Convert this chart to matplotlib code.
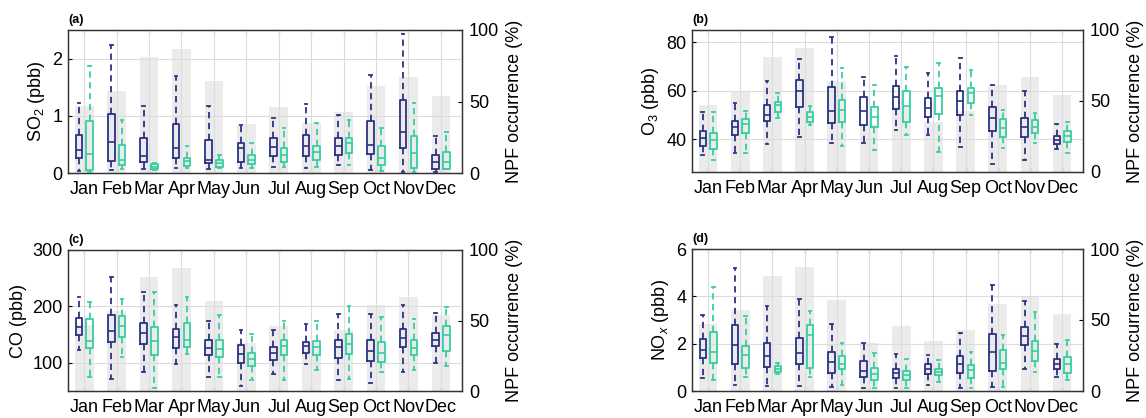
import matplotlib
matplotlib.use("Agg")
import matplotlib.pyplot as plt
import numpy as np

plt.rcParams['font.family'] = ['Liberation Sans', 'DejaVu Sans']
plt.rcParams['mathtext.fontset'] = 'custom'
plt.rcParams['mathtext.rm'] = 'Liberation Sans'
plt.rcParams['mathtext.it'] = 'Liberation Sans:italic'

months = ['Jan', 'Feb', 'Mar', 'Apr', 'May', 'Jun', 'Jul', 'Aug', 'Sep', 'Oct', 'Nov', 'Dec']
npf_occurrence = [47, 57, 81, 87, 64, 34, 46, 35, 43, 61, 67, 54]

# each series: whisker low, q1, median, q3, whisker high per month
so2_blue = [
    [0.04, 0.26, 0.40, 0.67, 1.22], [0.05, 0.21, 0.54, 1.03, 2.23], [0.07, 0.20, 0.29, 0.61, 1.18],
    [0.09, 0.26, 0.44, 0.85, 1.69], [0.07, 0.17, 0.23, 0.58, 1.18], [0.09, 0.19, 0.44, 0.53, 0.84],
    [0.11, 0.30, 0.46, 0.61, 0.96], [0.08, 0.30, 0.48, 0.67, 1.21], [0.14, 0.32, 0.48, 0.61, 1.02],
    [0.05, 0.33, 0.49, 0.91, 1.72], [0.02, 0.44, 0.71, 1.28, 2.43], [0.02, 0.07, 0.19, 0.32, 0.64]]
so2_green = [
    [0.02, 0.05, 0.33, 0.91, 1.87], [0.07, 0.14, 0.23, 0.49, 0.93], [0.05, 0.07, 0.11, 0.15, 0.17],
    [0.09, 0.13, 0.21, 0.27, 0.48], [0.08, 0.11, 0.17, 0.23, 0.32], [0.08, 0.15, 0.23, 0.32, 0.52],
    [0.11, 0.19, 0.32, 0.44, 0.78], [0.11, 0.23, 0.36, 0.48, 0.87], [0.14, 0.35, 0.52, 0.62, 0.93],
    [0.03, 0.14, 0.26, 0.48, 0.78], [0.02, 0.08, 0.35, 0.64, 1.22], [0.07, 0.07, 0.20, 0.37, 0.71]]

o3_blue = [
    [33.5, 37.4, 40.4, 43.2, 51.4], [34.2, 41.8, 44.9, 47.7, 54.8], [37.9, 47.6, 50.0, 54.2, 64.1],
    [41.1, 53.1, 59.7, 64.5, 73.1], [38.4, 46.6, 51.8, 61.4, 82.3], [38.4, 45.9, 51.8, 57.6, 65.8],
    [43.8, 52.4, 57.6, 62.0, 74.1], [41.8, 49.1, 52.8, 56.9, 67.2], [36.6, 50.0, 55.8, 59.9, 73.4],
    [29.7, 43.2, 48.7, 53.1, 62.4], [31.5, 41.1, 45.2, 48.7, 59.9], [36.0, 37.9, 39.7, 41.4, 46.2]]
o3_green = [
    [31.5, 36.0, 39.7, 42.5, 51.1], [34.2, 42.5, 46.2, 48.4, 51.7], [48.9, 51.1, 53.9, 55.5, 59.0],
    [45.9, 47.3, 49.3, 51.1, 53.5], [37.4, 47.3, 52.1, 56.2, 69.3], [35.6, 45.2, 49.3, 53.1, 62.4],
    [41.8, 47.3, 53.5, 59.9, 69.6], [34.9, 50.3, 57.9, 61.0, 71.3], [49.8, 54.8, 59.0, 61.0, 68.6],
    [36.3, 41.1, 44.5, 48.2, 52.1], [38.4, 42.5, 45.2, 48.0, 50.7], [34.2, 38.8, 41.5, 43.2, 47.3]]

co_blue = [
    [122, 150, 163, 180, 217], [72, 136, 157, 185, 253], [84, 134, 153, 171, 226],
    [97, 127, 146, 160, 202], [75, 113, 126, 140, 174], [58, 99, 116, 132, 158],
    [81, 105, 118, 128, 158], [98, 117, 129, 137, 168], [70, 109, 128, 141, 186],
    [64, 104, 121, 140, 187], [84, 128, 144, 160, 202], [99, 130, 141, 153, 189]]
co_green = [
    [74, 126, 139, 178, 208], [110, 146, 166, 183, 213], [55, 113, 139, 164, 226],
    [116, 128, 140, 171, 216], [74, 111, 125, 140, 185], [70, 95, 107, 118, 151],
    [70, 113, 130, 141, 174], [88, 113, 128, 139, 174], [72, 116, 134, 151, 201],
    [84, 101, 118, 137, 182], [87, 113, 127, 141, 178], [95, 121, 150, 166, 199]]

nox_blue = [
    [0.53, 1.41, 1.75, 2.21, 3.22], [0.25, 1.13, 1.93, 2.77, 5.19], [0.21, 1.02, 1.48, 2.04, 3.58],
    [0.21, 1.13, 1.62, 2.24, 3.89], [0.18, 0.74, 1.23, 1.65, 2.81], [0.11, 0.60, 0.85, 1.27, 2.04],
    [0.11, 0.53, 0.74, 0.95, 1.55], [0.25, 0.70, 0.95, 1.16, 1.54], [0.11, 0.77, 1.16, 1.47, 2.45],
    [0.15, 0.84, 1.65, 2.42, 4.49], [0.95, 1.93, 2.31, 2.70, 3.79], [0.60, 0.91, 1.13, 1.37, 2.00]]
nox_green = [
    [0.46, 1.19, 1.65, 2.49, 4.38], [0.60, 0.99, 1.51, 1.90, 3.15], [0.70, 0.81, 0.92, 1.05, 1.19],
    [0.60, 0.98, 2.35, 2.77, 3.37], [0.25, 0.91, 1.13, 1.48, 2.04], [0.11, 0.46, 0.70, 0.99, 1.61],
    [0.11, 0.46, 0.67, 0.85, 1.37], [0.39, 0.67, 0.81, 0.95, 1.30], [0.11, 0.57, 0.88, 1.09, 1.65],
    [0.15, 0.91, 1.19, 1.75, 2.35], [0.81, 1.26, 1.69, 2.11, 3.33], [0.46, 0.74, 1.16, 1.44, 2.14]]

BLUE = '#2b3283'
GREEN = '#36cf9f'
BAR = '#ebebeb'
GRID = '#dcdcdc'

W, H = 1146, 418
fig = plt.figure(figsize=(W / 100, H / 100), dpi=100)

def rect(l, t, r, b):
    return [l / W, 1 - b / H, (r - l) / W, (b - t) / H]

panels = [
    ('(a)', rect(68, 30, 462, 173), so2_blue, so2_green, 'SO$_2$ (pbb)', (0, 2.5), [0, 1, 2]),
    ('(b)', rect(692, 30, 1083, 172), o3_blue, o3_green, 'O$_3$ (pbb)', (26.5, 85), [40, 60, 80]),
    ('(c)', rect(68, 250, 462, 391), co_blue, co_green, 'CO (pbb)', (50, 300), [100, 200, 300]),
    ('(d)', rect(692, 249, 1083, 391), nox_blue, nox_green, 'NO$_x$ (pbb)', (0, 6), [0, 2, 4, 6]),
]

x = np.arange(1, len(months) + 1)
FS = 13

def stats_of(series):
    return [dict(whislo=s[0], q1=s[1], med=s[2], q3=s[3], whishi=s[4], fliers=[]) for s in series]

for letter, pos, blue, green, ylabel, ylim, yticks in panels:
    axn = fig.add_axes(pos)
    axn.bar(x, npf_occurrence, width=0.58, color=BAR, zorder=1)
    axn.set_xlim(0.5, 12.65)
    axn.set_xticks(x)
    axn.set_xticklabels(months)
    axn.tick_params(axis='x', direction='in', top=True, labelsize=FS, length=3, pad=6)

    axp = axn.twinx()
    # NPF axis on the right, pollutant axis on the left
    axn.yaxis.tick_right()
    axn.yaxis.set_label_position('right')
    axn.set_ylim(0, 100)
    axn.set_yticks([0, 50, 100])
    axn.set_ylabel('NPF occurrence (%)', fontsize=FS, labelpad=5)
    axn.tick_params(axis='y', direction='in', labelsize=FS, length=3, pad=5, left=False, labelleft=False)

    axp.yaxis.tick_left()
    axp.yaxis.set_label_position('left')
    axp.set_ylim(*ylim)
    axp.set_yticks(yticks)
    axp.tick_params(axis='y', direction='in', labelsize=FS, length=3, pad=4, right=False, labelright=False)
    axp.set_ylabel(ylabel, fontsize=FS, labelpad=4)
    axp.grid(True, axis='y', color=GRID, lw=0.8)
    axp.set_xlim(0.5, 12.65)
    for xi in x:
        axp.axvline(xi, color=GRID, lw=0.8, zorder=0)

    for series, col, off in ((blue, BLUE, -0.165), (green, GREEN, 0.165)):
        axp.bxp(stats_of(series), positions=x + off, widths=0.2, capwidths=0.08,
                showfliers=False, manage_ticks=False,
                boxprops=dict(color=col, lw=1.3),
                medianprops=dict(color=col, lw=1.2),
                whiskerprops=dict(color=col, lw=1.3, linestyle=(0, (3.5, 2.5))),
                capprops=dict(color=col, lw=1.3))
    for ax in (axn, axp):
        for sp in ax.spines.values():
            sp.set_color('#333333')
            sp.set_linewidth(0.9)
    axp.text(0.0, 1.03, letter, transform=axp.transAxes, fontsize=9, fontweight='bold',
             ha='left', va='bottom')

fig.savefig('out.png', dpi=100)
